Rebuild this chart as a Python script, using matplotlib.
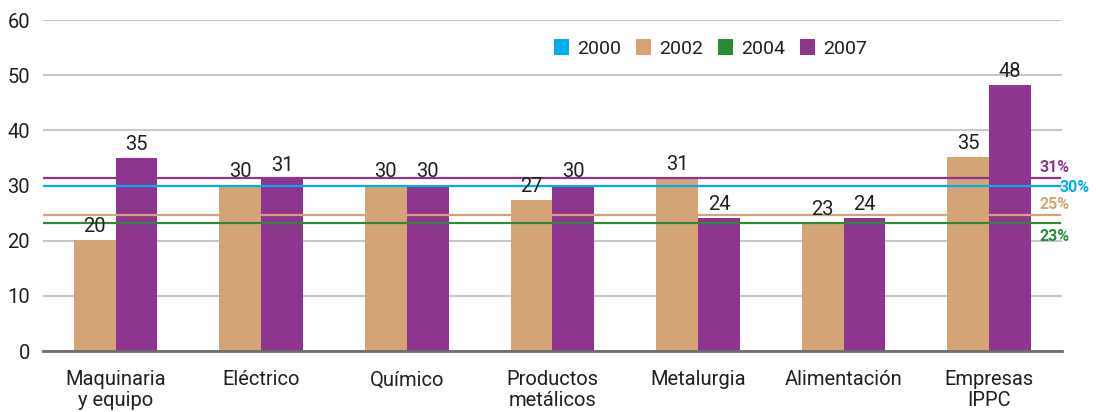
import matplotlib
matplotlib.use("Agg")
import matplotlib.pyplot as plt
from matplotlib.patches import Patch
import numpy as np

plt.rcParams["font.family"] = ["Roboto", "DejaVu Sans"]

categories = ["Maquinaria\ny equipo", "Eléctrico", "Químico", "Productos\nmetálicos",
              "Metalurgia", "Alimentación", "Empresas\nIPPC"]
vals_2002 = [20.1, 30.0, 30.0, 27.3, 31.3, 23.1, 35.2]
vals_2007 = [35.0, 31.2, 30.0, 30.0, 24.1, 24.1, 48.3]
labels_2002 = ["20", "30", "30", "27", "31", "23", "35"]
labels_2007 = ["35", "31", "30", "30", "24", "24", "48"]

# average lines per year
avg_years = ["2000", "2002", "2004", "2007"]
avg_values = [29.9, 24.7, 23.2, 31.3]
avg_labels = ["30%", "25%", "23%", "31%"]

C_BLUE = "#00AEEF"
C_TAN = "#D5A476"
C_GREEN = "#2A8C3A"
C_PURPLE = "#8E3590"
colors = {"2000": C_BLUE, "2002": C_TAN, "2004": C_GREEN, "2007": C_PURPLE}
TXT = "#231F20"
FS = 14.5

fig = plt.figure(figsize=(10.96, 4.12), dpi=100)
ax = fig.add_axes([0.039, 0.148, 0.930, 0.803])

x = np.arange(len(categories))
w = 0.287
ax.bar(x - w / 2, vals_2002, w, color=C_TAN, zorder=2)
ax.bar(x + w / 2, vals_2007, w, color=C_PURPLE, zorder=2)

for xi, v, lab in zip(x - w / 2, vals_2002, labels_2002):
    ax.annotate(lab, (xi, v), xytext=(0, 3), textcoords="offset points",
                ha="center", va="bottom", fontsize=FS, color=TXT, zorder=5)
for xi, v, lab in zip(x + w / 2, vals_2007, labels_2007):
    ax.annotate(lab, (xi, v), xytext=(0, 3), textcoords="offset points",
                ha="center", va="bottom", fontsize=FS, color=TXT, zorder=5)

# average lines on top of the bars
for yr, v in zip(avg_years, avg_values):
    ax.axhline(v, xmin=0, xmax=0.998, color=colors[yr], lw=1.6, zorder=4)

# right-hand percentage labels
lab_pos = {"2007": (0.978, 31.3 + 1.9), "2000": (0.998, 29.9 - 0.2),
           "2002": (0.978, 24.7 + 1.9), "2004": (0.978, 23.2 - 2.5)}
for yr, lab in zip(avg_years, avg_labels):
    px, py = lab_pos[yr]
    ax.text(px, py, lab, transform=ax.get_yaxis_transform(), ha="left", va="center",
            fontsize=11.5, fontweight="bold", color=colors[yr], clip_on=False)

ax.set_xlim(-0.5, 6.5)
ax.set_ylim(0, 60)
ax.set_yticks(range(0, 61, 10))
ax.yaxis.grid(True, color="#C8C8C8", lw=1.5, zorder=0)
ax.set_axisbelow(True)
for s in ["top", "right", "left"]:
    ax.spines[s].set_visible(False)
ax.spines["bottom"].set_color("#6E6E6E")
ax.spines["bottom"].set_linewidth(2)
ax.spines["bottom"].set_zorder(6)
ax.tick_params(axis="both", length=0, labelsize=FS, labelcolor=TXT)
ax.tick_params(axis="y", pad=9)
ax.tick_params(axis="x", pad=14)
ax.set_xticks(x)
ax.set_xticklabels(categories, linespacing=1.1)

handles = [Patch(facecolor=colors[yr], edgecolor="none") for yr in avg_years]
ax.legend(handles, avg_years, ncol=4, frameon=False, fontsize=14,
          loc="center", bbox_to_anchor=(0.655, 0.915), handlelength=0.8,
          handleheight=0.85, handletextpad=0.4, columnspacing=0.75,
          labelcolor=TXT)

fig.savefig("out.png", dpi=100)
